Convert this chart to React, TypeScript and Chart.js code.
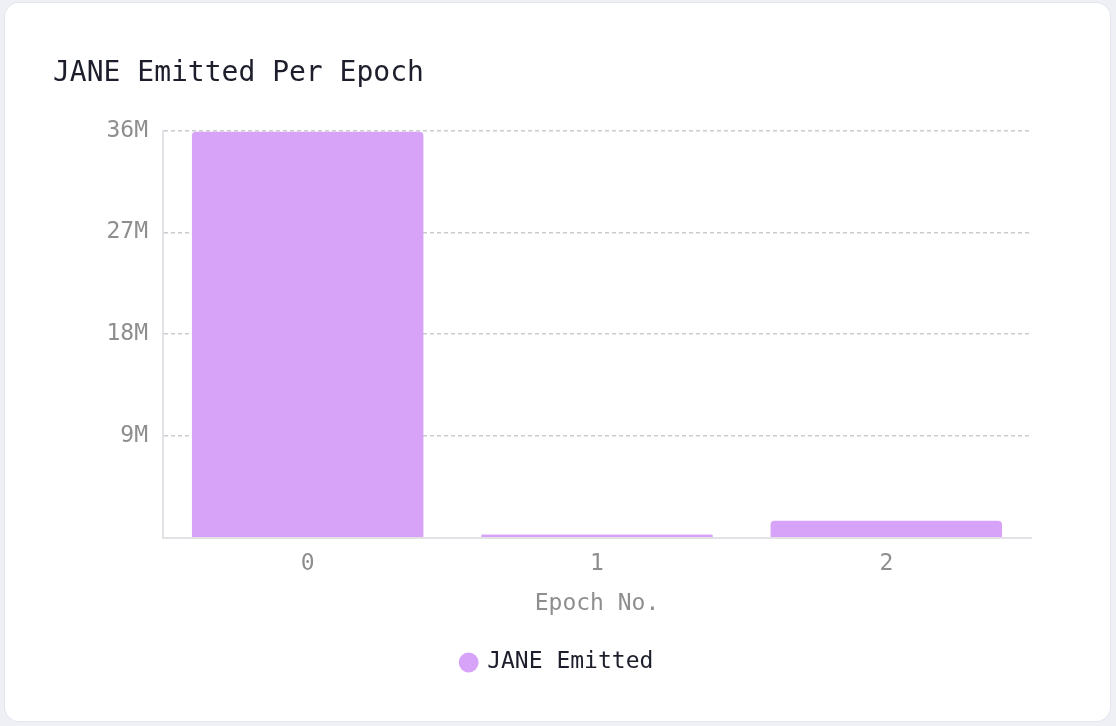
import { useEffect, useRef } from 'react';
import { Chart, registerables } from 'chart.js';

Chart.register(...registerables);

const epochs = ['0', '1', '2'];
const janeEmitted = [35900000, 300000, 1500000];
const yTicks = [0, 9000000, 18000000, 27000000, 36000000];

const FONT = "'DejaVu Sans Mono', 'Liberation Mono', monospace";
const BAR_COLOR = 'rgb(215, 163, 248)';
const TEXT_DARK = '#1c1e2c';
const TEXT_GRAY = '#8e8e8e';

function EmissionChart() {
  const canvasRef = useRef<HTMLCanvasElement>(null);

  useEffect(() => {
    if (!canvasRef.current) return;

    const chart = new Chart(canvasRef.current, {
      type: 'bar',
      data: {
        labels: epochs,
        datasets: [
          {
            label: 'JANE Emitted',
            data: janeEmitted,
            backgroundColor: BAR_COLOR,
            borderWidth: 0,
            borderRadius: 4,
            categoryPercentage: 1,
            barPercentage: 0.8,
          },
        ],
      },
      options: {
        animation: false,
        responsive: true,
        maintainAspectRatio: false,
        // symmetric padding keeps the legend centred on the card
        layout: { padding: { left: 48, right: 48, top: 0, bottom: 0 } },
        plugins: {
          title: {
            display: true,
            text: 'JANE Emitted Per Epoch',
            align: 'start',
            color: TEXT_DARK,
            font: { family: FONT, size: 28, weight: 'normal' },
            padding: { top: 14, bottom: 40 },
          },
          legend: {
            position: 'bottom',
            labels: {
              usePointStyle: true,
              pointStyle: 'circle',
              boxWidth: 14,
              boxHeight: 14,
              padding: 10,
              color: TEXT_DARK,
              font: { family: FONT, size: 23 },
            },
          },
          tooltip: { enabled: false },
        },
        scales: {
          x: {
            grid: { display: false, drawTicks: false },
            border: { display: true, color: '#e2e2e6', width: 2 },
            ticks: {
              color: TEXT_GRAY,
              padding: 12,
              font: { family: FONT, size: 23 },
            },
            title: {
              display: true,
              text: 'Epoch No.',
              color: TEXT_GRAY,
              font: { family: FONT, size: 23 },
              padding: { top: 1, bottom: 23 },
            },
          },
          y: {
            min: 0,
            max: 36000000,
            afterBuildTicks: (scale: any) => {
              scale.ticks = yTicks.map((v) => ({ value: v }));
            },
            afterFit: (scale: any) => {
              scale.width = 110;
            },
            grid: {
              color: '#cbcbcf',
              lineWidth: 1.5,
              drawTicks: false,
            },
            border: { display: true, color: '#e2e2e6', width: 2, dash: [4, 3] },
            ticks: {
              color: TEXT_GRAY,
              padding: 15,
              font: { family: FONT, size: 23 },
              callback: (v: any) => (Number(v) === 0 ? '' : `${Number(v) / 1000000}M`),
            },
          },
          // empty spacer axis on the right
          yRight: {
            display: true,
            position: 'right',
            grid: { display: false, drawTicks: false },
            border: { display: false },
            ticks: { display: false },
            afterFit: (scale: any) => {
              scale.width = 31;
            },
          },
        },
      },
    });

    return () => {
      chart.destroy();
    };
  }, []);

  return <canvas ref={canvasRef} />;
}

export default function App() {
  return (
    <div
      style={{
        position: 'fixed',
        inset: 0,
        background: '#eef0f6',
      }}
    >
      <div
        style={{
          position: 'absolute',
          left: 5,
          top: 3,
          width: 1105,
          height: 718,
          background: '#ffffff',
          borderRadius: 14,
          boxShadow: '0 0 0 1px #e4e6ee',
        }}
      >
        <div style={{ position: 'absolute', left: 0, top: 40, width: 1105, height: 641 }}>
          <EmissionChart />
        </div>
      </div>
    </div>
  );
}
